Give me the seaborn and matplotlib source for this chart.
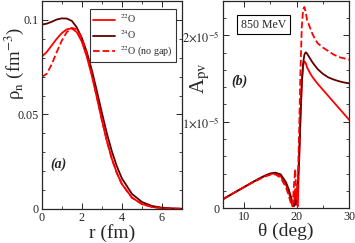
import numpy as np
import pandas as pd
import matplotlib
matplotlib.use('Agg')
import matplotlib.pyplot as plt
import seaborn as sns
from matplotlib.ticker import MultipleLocator, FuncFormatter

# colours
rojo = '#ff0000'
marron = '#600000'

# panel (a): neutron densities
r_fm = [0, 0.25, 0.5, 0.75, 1.0, 1.25, 1.5, 1.75, 2.0, 2.25, 2.5, 2.75, 3.0, 3.25,
        3.5, 3.75, 4.0, 4.5, 5.0, 5.5, 6.0, 6.5, 7.0]
rho_o24 = [0.0975, 0.0980, 0.0990, 0.1002, 0.1008, 0.1007, 0.0995, 0.0960, 0.0905,
           0.0830, 0.0735, 0.0625, 0.0510, 0.0400, 0.0305, 0.0225, 0.0162, 0.0080,
           0.0037, 0.0016, 0.0007, 0.0003, 0.0001]
rho_o22 = [0.0805, 0.0830, 0.0865, 0.0900, 0.0930, 0.0950, 0.0955, 0.0935, 0.0885,
           0.0805, 0.0705, 0.0590, 0.0470, 0.0360, 0.0265, 0.0190, 0.0132, 0.0060,
           0.0026, 0.0011, 0.0004, 0.0002, 0.0001]
rho_o22_nogap = [0.0698, 0.0715, 0.0765, 0.0830, 0.0890, 0.0935, 0.0958, 0.0950, 0.0905,
                 0.0820, 0.0715, 0.0595, 0.0472, 0.0360, 0.0265, 0.0190, 0.0132, 0.0060,
                 0.0026, 0.0011, 0.0004, 0.0002, 0.0001]

# panel (b): parity violating asymmetry (units of 1e-5)
theta = [6, 7, 8, 9, 10, 11, 12, 13, 14, 15, 16, 17, 18, 18.5, 19, 19.25, 19.5, 19.75,
         20, 20.25, 20.5, 20.75, 21, 21.25, 21.5, 21.75, 22, 22.5, 23, 23.5, 24, 25,
         26, 27, 28, 29, 30]
apv_o24 = [0.10, 0.135, 0.17, 0.205, 0.24, 0.275, 0.31, 0.345, 0.375, 0.40, 0.41, 0.39,
           0.30, 0.22, 0.12, 0.06, 0.02, 0.04, 0.15, 0.30, 0.60, 1.05, 1.45, 1.68, 1.78,
           1.805, 1.79, 1.74, 1.69, 1.65, 1.61, 1.555, 1.515, 1.49, 1.47, 1.455, 1.445]
apv_o22 = [0.10, 0.135, 0.17, 0.205, 0.24, 0.275, 0.31, 0.34, 0.37, 0.395, 0.40, 0.37,
           0.27, 0.19, 0.08, 0.02, 0.05, 0.22, 0.05, 0.02, 0.55, 1.05, 1.45, 1.65, 1.70,
           1.68, 1.63, 1.57, 1.52, 1.48, 1.44, 1.37, 1.30, 1.23, 1.16, 1.09, 1.02]
apv_o22_nogap = [0.10, 0.135, 0.17, 0.205, 0.24, 0.275, 0.305, 0.335, 0.365, 0.385, 0.39,
                 0.35, 0.24, 0.15, 0.04, 0.02, 0.25, 0.45, 0.10, 0.30, 0.90, 1.60, 2.10,
                 2.30, 2.33, 2.27, 2.18, 2.10, 2.02, 1.96, 1.91, 1.86, 1.82, 1.78, 1.75,
                 1.735, 1.72]

sns.set_style('ticks')
plt.rcParams['font.family'] = ['Liberation Serif', 'DejaVu Serif']
plt.rcParams['mathtext.fontset'] = 'stix'
plt.rcParams['xtick.direction'] = 'in'
plt.rcParams['ytick.direction'] = 'in'
plt.rcParams['xtick.top'] = True
plt.rcParams['ytick.right'] = True

fig = plt.figure(figsize=(3.55, 2.43), dpi=100)
ax1 = fig.add_axes([0.1175, 0.140, 0.3952, 0.856])
ax2 = fig.add_axes([0.627, 0.144, 0.357, 0.852])

dens = pd.DataFrame({'r': r_fm, 'o24': rho_o24, 'o22': rho_o22, 'ng': rho_o22_nogap})
sns.lineplot(data=dens, x='r', y='o22', ax=ax1, color=rojo, lw=1.3, label=r'$^{22}$O')
sns.lineplot(data=dens, x='r', y='o24', ax=ax1, color=marron, lw=1.3, label=r'$^{24}$O')
sns.lineplot(data=dens, x='r', y='ng', ax=ax1, color=rojo, lw=1.3, linestyle='--',
             dashes=(6, 3), label=r'$^{22}$O (no gap)')

asim = pd.DataFrame({'t': theta, 'o24': np.array(apv_o24) * 1e-5,
                     'o22': np.array(apv_o22) * 1e-5, 'ng': np.array(apv_o22_nogap) * 1e-5})
sns.lineplot(data=asim, x='t', y='o22', ax=ax2, color=rojo, lw=1.3)
sns.lineplot(data=asim, x='t', y='o24', ax=ax2, color=marron, lw=1.3)
sns.lineplot(data=asim, x='t', y='ng', ax=ax2, color=rojo, lw=1.3, linestyle='--', dashes=(7, 3.5))

# panel (a) axes
ax1.set_xlim(0, 7)
ax1.set_ylim(0, 0.11)
ax1.xaxis.set_major_locator(MultipleLocator(2))
ax1.xaxis.set_minor_locator(MultipleLocator(1))
ax1.yaxis.set_major_locator(MultipleLocator(0.05))
ax1.yaxis.set_minor_locator(MultipleLocator(0.01))
ax1.yaxis.set_major_formatter(FuncFormatter(lambda v, p: '0' if v == 0 else f'{v:g}'))
ax1.set_xlabel('r (fm)', fontsize=14, labelpad=0)
ax1.set_ylabel('ρ$_{\\rm n}$ (fm$^{-3}$)', fontsize=13.5)
ax1.yaxis.set_label_coords(-0.115, 0.70)
ax1.text(0.116, 0.216, '(a)', transform=ax1.transAxes, ha='center', va='center',
         fontsize=10, fontweight='bold', fontstyle='italic')
leg = ax1.legend(loc='upper right', bbox_to_anchor=(0.96, 0.962), fontsize=7.2,
                 frameon=True, fancybox=False, handlelength=2.2, borderpad=0.35,
                 labelspacing=0.3, handletextpad=0.5, borderaxespad=0)
leg.get_frame().set_edgecolor('black')
leg.get_frame().set_linewidth(0.8)

# panel (b) axes
ax2.set_xlim(6, 30)
ax2.set_ylim(0, 2.4e-5)
ax2.xaxis.set_major_locator(MultipleLocator(10))
ax2.xaxis.set_minor_locator(MultipleLocator(5))
ax2.yaxis.set_major_locator(MultipleLocator(1e-5))
ax2.yaxis.set_minor_locator(MultipleLocator(0.2e-5))
ax2.yaxis.set_major_formatter(FuncFormatter(
    lambda v, p: '0' if abs(v) < 1e-9 else r'$%d{\times}10^{-5}$' % round(v / 1e-5)))
ax2.set_xlabel('θ (deg)', fontsize=14, labelpad=0)
ax2.set_ylabel('A$_{\\rm pv}$', fontsize=15)
ax2.yaxis.set_label_coords(-0.08, 0.628)
ax2.text(0.135, 0.613, '(b)', transform=ax2.transAxes, ha='center', va='center',
         fontsize=10, fontweight='bold', fontstyle='italic')
ax2.text(0.323, 0.886, '850 MeV', transform=ax2.transAxes, ha='center', va='center',
         fontsize=8.5, bbox=dict(boxstyle='square,pad=0.3', facecolor='white',
                                 edgecolor='black', linewidth=0.8))

for ax in (ax1, ax2):
    ax.tick_params(which='major', length=4, width=0.7, labelsize=8.7, pad=2)
    ax.tick_params(which='minor', length=2.2, width=0.6)
    for s in ax.spines.values():
        s.set_linewidth(0.9)

plt.savefig('out.png', dpi=100)
